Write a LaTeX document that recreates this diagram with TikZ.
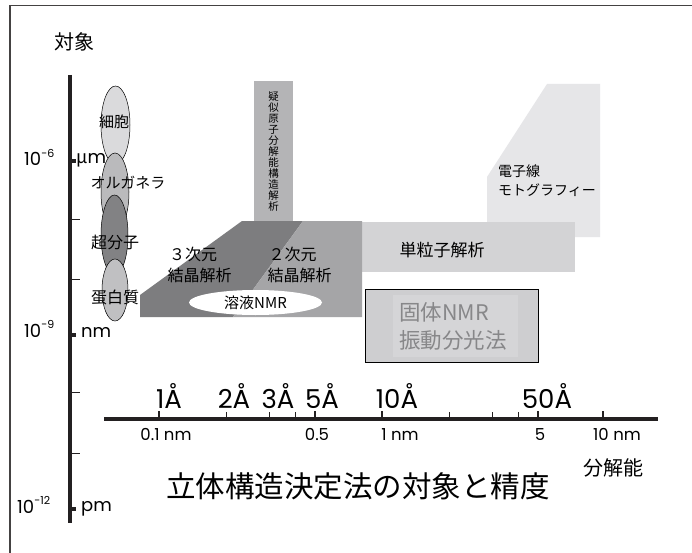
\documentclass[tikz,border=0pt]{standalone}
\usepackage{fontspec}
\setmainfont{Noto Sans CJK JP}
\newfontfamily\lat{Poppins}
\definecolor{cDark}{RGB}{125,125,127}
\definecolor{cLight}{RGB}{165,165,167}
\definecolor{cCol}{RGB}{180,180,182}
\definecolor{cSP}{RGB}{211,211,213}
\definecolor{cTomo}{RGB}{230,230,232}
\definecolor{cBox}{RGB}{206,206,208}
\definecolor{cBoxIn}{RGB}{213,213,215}
\definecolor{cBoxTxt}{RGB}{135,135,137}
\definecolor{cE1}{RGB}{218,218,220}
\definecolor{cE2}{RGB}{186,186,188}
\definecolor{cE3}{RGB}{130,130,132}
\definecolor{cE4}{RGB}{192,192,194}
\definecolor{cAx}{RGB}{35,32,33}
\tikzset{
  fs/.style={font=\fontsize{#1}{#1}\selectfont},
  obj/.style={draw=black, line width=0.5pt},
  minortick/.style={cAx, line width=0.8pt},
  majortick/.style={cAx, line width=2pt},
  txt/.style={inner sep=0pt, text=black},
}
\newcommand\supx[1]{\raisebox{0.45em}{\fontsize{11}{11}\selectfont #1}}
\begin{document}
\begin{tikzpicture}[x=1pt,y=-1pt]
\useasboundingbox (0,0) rectangle (692,553);
\fill[white] (0,0) rectangle (692,553);
% frame
\draw[cAx!85, line width=1.5pt] (10,553) -- (10,5.5) -- (692,5.5);

% method regions
\fill[cTomo] (487,237) -- (487,177) -- (547,84) -- (600,84) -- (600,237) -- cycle;
\fill[cSP] (362,222) rectangle (575,272);
\fill[cCol] (254,81) rectangle (293,223);
\fill[cDark] (140,317) -- (140,295) -- (242,221) -- (303,221) -- (233,317) -- cycle;
\fill[cLight] (303,221) -- (362,221) -- (362,317) -- (233,317) -- cycle;
\fill[white] (255.5,302.5) ellipse [x radius=66.5, y radius=12.5];
\draw[fill=cBox, draw=black, line width=0.9pt] (365,289) rectangle (538,362);
\fill[cBoxIn] (393,295) rectangle (518,357);

% objects (ellipses)
\draw[obj, fill=cE1] (115.5,125) ellipse [x radius=14.5, y radius=39];
\draw[obj, fill=cE2] (115,192) ellipse [x radius=14, y radius=39];
\draw[obj, fill=cE3] (114.5,235) ellipse [x radius=13.5, y radius=40];
\draw[obj, fill=cE4] (115,290) ellipse [x radius=13, y radius=31];

% vertical axis
\draw[cAx, line width=4pt] (70,75) -- (70,523);
\foreach \yy in {219,279,392,453} \draw[minortick] (72,\yy) -- (80,\yy);
\foreach \yy in {161,335,509} \fill[cAx] (72,\yy-1.8) rectangle (76,\yy+1.8);

% horizontal axis
\draw[cAx, line width=4pt] (104,419) -- (658,419);
\foreach \xx in {226,269,295,449,492,518} \draw[minortick] (\xx,418) -- (\xx,412);
\foreach \xx in {159,315,382,538,603} \draw[majortick] (\xx,418) -- (\xx,410.5);

% axis labels (vertical)
\node[txt, fs=20, anchor=center] (taisho) at (74,42) {対象};
\node[txt, fs=18, anchor=base west] (e6) at (24,166) {\lat 10\supx{-6}};
\node[txt, fs=18, anchor=base west] (um) at (76,164) {µ{\lat m}};
\node[txt, fs=18, anchor=base west] (e9) at (24,337) {\lat 10\supx{-9}};
\node[txt, fs=18, anchor=base west] (nm) at (81,337) {\lat nm};
\node[txt, fs=18, anchor=base west] (e12) at (17,513) {\lat 10\supx{-12}};
\node[txt, fs=18, anchor=base west] (pm) at (81,511) {\lat pm};

% object labels
\node[txt, fs=15] (cell) at (114,122) {細胞};
\node[txt, fs=15] (org) at (128,183) {オルガネラ};
\node[txt, fs=16] (supra) at (115,242) {超分子};
\node[txt, fs=16] (prot) at (115,297) {蛋白質};

% method labels
\node[txt, fs=16] (x3a) at (193,254) {３次元};
\node[txt, fs=16] (x3b) at (199.5,275) {結晶解析};
\node[txt, fs=16] (x2a) at (292.5,254) {２次元};
\node[txt, fs=16] (x2b) at (299.5,275) {結晶解析};
\node[txt, fs=15] (snmr) at (255.5,303) {溶液NMR};
\node[txt, fs=17] (sp) at (442,250) {単粒子解析};
\node[txt, fs=14, anchor=west] (tomo1) at (498,171) {電子線};
\node[txt, fs=14, anchor=west] (tomo2) at (498,190) {モトグラフィー};
\node[txt, align=center, font=\fontsize{10.5}{11}\selectfont] (pseudo) at (273.5,152)
  {疑\\似\\原\\子\\分\\解\\能\\構\\造\\解\\析};
\node[txt, fs=21.5, text=cBoxTxt, anchor=west] (solid1) at (399,312) {固体NMR};
\node[txt, fs=21.5, text=cBoxTxt, anchor=west] (solid2) at (399,340) {振動分光法};

% horizontal axis labels
\node[txt, fs=26, anchor=base] (a1) at (169,408) {\lat 1Å};
\node[txt, fs=26, anchor=base] (a2) at (234,408) {\lat 2Å};
\node[txt, fs=26, anchor=base] (a3) at (278,408) {\lat 3Å};
\node[txt, fs=26, anchor=base] (a5) at (322,408) {\lat 5Å};
\node[txt, fs=26, anchor=base] (a10) at (397,408) {\lat 10Å};
\node[txt, fs=26, anchor=base] (a50) at (547,408) {\lat 50Å};
\node[txt, fs=16.5, anchor=base] (n01) at (166,440) {\lat 0.1 nm};
\node[txt, fs=16.5, anchor=base] (n05) at (317,440) {\lat 0.5};
\node[txt, fs=16.5, anchor=base] (n1) at (400,440) {\lat 1 nm};
\node[txt, fs=16.5, anchor=base] (n5) at (540,440) {\lat 5};
\node[txt, fs=16.5, anchor=base] (n10) at (617,440) {\lat 10 nm};
\node[txt, fs=20] (bunkai) at (613,468) {分解能};
\node[txt, fs=29.5] (title) at (358,486) {立体構造決定法の対象と精度};
\end{tikzpicture}
\end{document}
